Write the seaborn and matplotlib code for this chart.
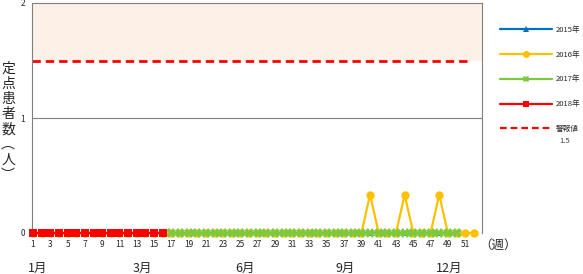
import matplotlib
matplotlib.use("Agg")
import matplotlib.pyplot as plt
import seaborn as sns
import pandas as pd
from matplotlib.lines import Line2D

sns.set_style("white")
plt.rcParams['font.family'] = ['Noto Sans CJK JP', 'DejaVu Sans']

weeks_2015 = list(range(17, 51))
vals_2015 = [0] * len(weeks_2015)
weeks_2016 = list(range(1, 53))
vals_2016 = [0.333 if w in (40, 44, 48) else 0 for w in weeks_2016]
weeks_2017 = list(range(17, 51))
vals_2017 = [0] * len(weeks_2017)
weeks_2018 = list(range(1, 17))
vals_2018 = [0] * len(weeks_2018)
alert_value = 1.5

week_ticks = list(range(1, 52, 2))
month_labels = ["1月", "3月", "6月", "9月", "12月"]
month_pos = [1.5, 13.6, 25.5, 37.1, 49.2]

fig = plt.figure(figsize=(5.83, 2.74), dpi=100)
ax = fig.add_axes([32/583, 1-233/274, 450/583, 230/274])

ax.axhspan(1.5, 2.0, color="#FDF0E6", zorder=0, lw=0)
ax.axhline(1, color="#808080", lw=0.8, zorder=1)
ax.axhline(alert_value, xmin=0, xmax=0.978, color="#FF0000", lw=2, ls=(0, (3, 1.8)), zorder=2)

series = [
    ("2015年", weeks_2015, vals_2015, "#0070C0", "^", 5),
    ("2016年", weeks_2016, vals_2016, "#FFC000", "o", 6),
    ("2017年", weeks_2017, vals_2017, "#7DC83C", "X", 6.5),
    ("2018年", weeks_2018, vals_2018, "#FF0000", "s", 6),
]
handles = []
for i, (name, wk, vl, col, mk, ms) in enumerate(series):
    df = pd.DataFrame({"week": wk, "value": vl})
    sns.lineplot(data=df, x="week", y="value", ax=ax, color=col, marker=mk,
                 markersize=ms, markeredgewidth=0, lw=1.6, clip_on=False, zorder=3 + i,
                 legend=False)
    handles.append(Line2D([0], [0], color=col, marker=mk, markersize=5,
                          markeredgewidth=0, lw=1.6))
handles.append(Line2D([0], [0], color="#FF0000", lw=1.6, ls=(0, (3, 1.8))))

ax.set_xlim(0.88, 52.95)
ax.set_ylim(0, 2)
ax.set_xticks(week_ticks)
ax.set_xticklabels([str(w) for w in week_ticks], fontsize=6)
ax.set_yticks([0, 1, 2])
ax.set_yticklabels(["0", "1", "2"], fontsize=6)
ax.tick_params(length=0, pad=5)
ax.set_xlabel("")
ax.set_ylabel("")
for s in ax.spines.values():
    s.set_color("#808080")
    s.set_linewidth(0.8)
ax.spines["bottom"].set_visible(False)

for lab, pos in zip(month_labels, month_pos):
    ax.text(pos, -0.152, lab, ha="center", va="center", fontsize=9,
            transform=ax.get_xaxis_transform())
fig.text(498/583, 1-245/274, "（週）", ha="center", va="center", fontsize=9)
fig.text(8/583, 1-122/274, "\n".join(list("定点患者数︵人︶")), ha="center",
         va="center", fontsize=10, linespacing=1.1)

leg = fig.legend(handles, ["2015年", "2016年", "2017年", "2018年", "警報値"],
                 loc="upper left", bbox_to_anchor=(493/583, 1-19/274), frameon=False,
                 fontsize=5.5, handlelength=6.8, labelspacing=2.2, handletextpad=0.5)
fig.text(559/583, 1-141/274, "1.5", ha="left", va="center", fontsize=5.5, color="#404040")

fig.savefig("out.png", dpi=100)
